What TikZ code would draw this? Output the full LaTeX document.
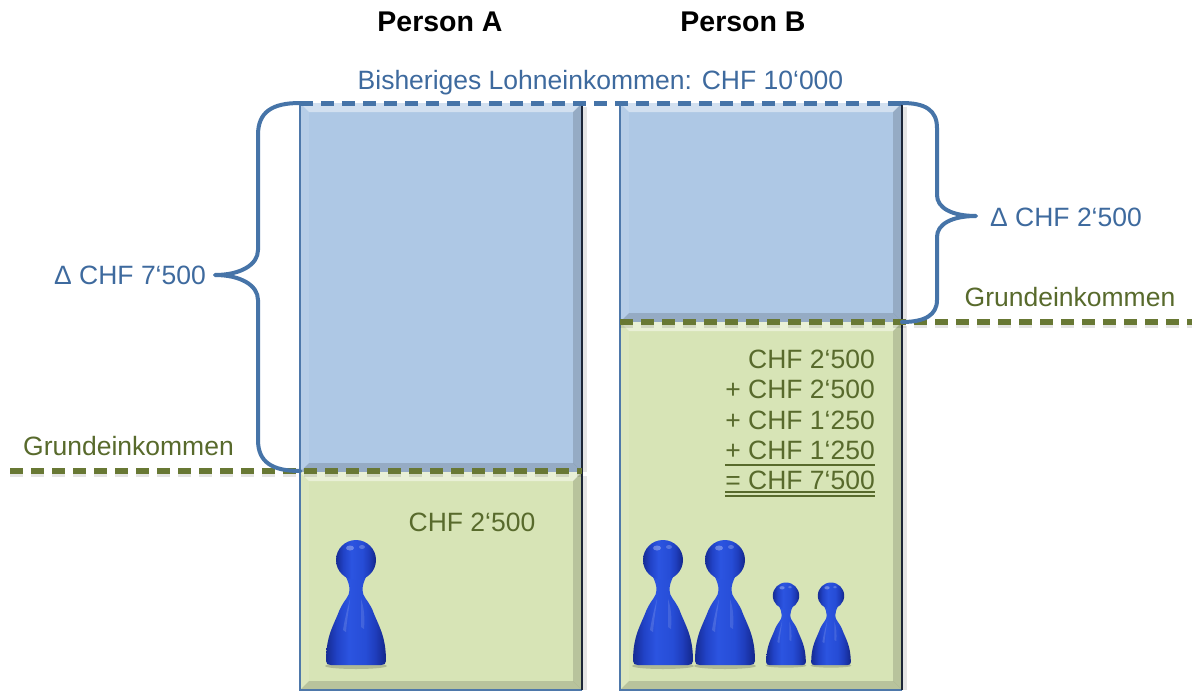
\documentclass[tikz,border=0pt]{standalone}
\usepackage{fontspec}
\setmainfont{Liberation Sans}
\definecolor{paneBlue}{RGB}{174,200,229}
\definecolor{paneGreen}{RGB}{215,228,182}
\definecolor{steel}{RGB}{70,116,168}
\definecolor{steelText}{RGB}{62,106,158}
\definecolor{rimBlue}{RGB}{78,120,170}
\definecolor{rimDark}{RGB}{28,38,56}
\definecolor{olive}{RGB}{104,120,52}
\definecolor{oliveText}{RGB}{88,106,44}

% glossy blue across the pawn, darker towards its sides
\pgfdeclarehorizontalshading{pawnGloss}{100bp}{%
  rgb(0bp)=(0.09,0.18,0.60); rgb(26bp)=(0.09,0.18,0.60);
  rgb(34bp)=(0.13,0.26,0.78); rgb(44bp)=(0.17,0.33,0.88);
  rgb(58bp)=(0.15,0.30,0.84); rgb(66bp)=(0.12,0.24,0.74);
  rgb(74bp)=(0.08,0.16,0.56); rgb(100bp)=(0.08,0.16,0.56)}

% bevelled panel: x0, y0, x1, y1, fill colour
\newcommand\bevelpanel[5]{%
  \fill[black,opacity=.10] ({#3},{#2+4}) rectangle ({#3+5},{#4});
  \fill[#5] (#1,#2) rectangle (#3,#4);
  \fill[white,opacity=.45] (#1,#2) -- (#3,#2) -- ({#3-9},{#2+9}) -- ({#1+9},{#2+9}) -- cycle;
  \fill[white,opacity=.10] (#1,#2) -- ({#1+9},{#2+9}) -- ({#1+9},{#4-9}) -- (#1,#4) -- cycle;
  \fill[black,opacity=.14] (#3,#2) -- (#3,#4) -- ({#3-9},{#4-9}) -- ({#3-9},{#2+9}) -- cycle;
  \fill[black,opacity=.14] (#1,#4) -- (#3,#4) -- ({#3-9},{#4-9}) -- ({#1+9},{#4-9}) -- cycle;
}

\tikzset{
  txt/.style={font=\fontsize{26.5}{30}\selectfont, inner sep=0pt, anchor=base},
  blueTxt/.style={txt, text=steelText},
  greenTxt/.style={txt, text=oliveText},
  headTxt/.style={font=\fontsize{28.5}{32}\selectfont\bfseries, inner sep=0pt, anchor=base},
  blueDash/.style={steel, line width=5pt, dash pattern=on 13pt off 8pt},
  greenDash/.style={olive, line width=5.5pt, dash pattern=on 13pt off 8pt},
  dashShadow/.style={black, opacity=.10, line width=6pt, dash pattern=on 13pt off 8pt},
  braceLine/.style={steel, line width=4pt, line cap=round, line join=round},
  pawnShade/.style={shading=pawnGloss},
  pawn/.pic={
    \fill[black,opacity=.18] (0,1) ellipse (31pt and 3pt);
    \path[pawnShade] (-30,-4) .. controls (-30,-1) and (-28,0) .. (-25,0) -- (25,0)
      .. controls (28,0) and (30,-1) .. (30,-4)
      .. controls (30,-30) and (22,-40) .. (16.5,-55)
      .. controls (11.5,-66) and (6.5,-68) .. (6.5,-75)
      .. controls (6.5,-80) and (8,-84) .. (11,-90) -- (-11,-90)
      .. controls (-8,-84) and (-6.5,-80) .. (-6.5,-75)
      .. controls (-6.5,-68) and (-11.5,-66) .. (-16.5,-55)
      .. controls (-22,-40) and (-30,-30) .. (-30,-4) -- cycle;
    \path[pawnShade] (0,-105) circle (20pt);
    \fill[white,opacity=.30] (-6,-117) ellipse (4pt and 2.5pt);
    \fill[white,opacity=.22] (6,-118) ellipse (3pt and 2pt);
    \fill[white,opacity=.14] (-13,-35) .. controls (-11,-48) and (-8,-58) .. (-6,-66)
      .. controls (-7,-56) and (-9,-46) .. (-10,-33) -- cycle;
    \fill[white,opacity=.12] (5,-38) .. controls (5,-50) and (5,-60) .. (5,-66)
      .. controls (8,-58) and (9,-48) .. (8,-36) -- cycle;
  }
}

\begin{document}
\begin{tikzpicture}[x=1pt,y=-1pt]
\useasboundingbox[fill=white] (0,0) rectangle (1192,693);

% columns
\bevelpanel{300}{103}{582}{472}{paneBlue}
\bevelpanel{300}{472}{582}{690}{paneGreen}
\bevelpanel{620}{103}{902}{322}{paneBlue}
\bevelpanel{620}{322}{902}{690}{paneGreen}
\draw[rimBlue, line width=2.5pt] (300,103) -- (300,690) -- (582,690);
\draw[rimDark, line width=2pt] (582,103) -- (582,690);
\draw[rimBlue, line width=2.5pt] (620,103) -- (620,690) -- (902,690);
\draw[rimDark, line width=2pt] (902,103) -- (902,690);

% reference levels
\coordinate (topL) at (300,103);
\coordinate (topR) at (902,103);
\coordinate (gaL0) at (10,471);
\coordinate (gaL1) at (582,471);
\coordinate (gaR0) at (620,322);
\coordinate (gaR1) at (1192,322);
\draw[dashShadow] ([yshift=-3pt]gaL0) -- ([yshift=-3pt]gaL1);
\draw[dashShadow] ([yshift=-3pt]gaR0) -- ([yshift=-3pt]gaR1);
\draw[blueDash] (topL) -- (topR);
\draw[greenDash] (gaL0) -- (gaL1);
\draw[greenDash] (gaR0) -- (gaR1);

% braces
\draw[braceLine] (topL) .. controls (272,103) and (258,112) .. (258,135) -- (258,250)
  .. controls (258,265) and (240,275) .. (215,275)
  .. controls (240,275) and (258,285) .. (258,300) -- (258,440)
  .. controls (258,462) and (272,471) .. (300,471);
\draw[braceLine] (topR) .. controls (925,103) and (937,110) .. (937,128) -- (937,195)
  .. controls (937,208) and (952,216) .. (976,216)
  .. controls (952,216) and (937,224) .. (937,237) -- (937,300)
  .. controls (937,315) and (925,322) .. (902,322);

% labels
\node[headTxt] (personA) at (440,32) {Person A};
\node[headTxt] (personB) at (743,32) {Person B};
\node[blueTxt] (prior) at (600.5,89) {Bisheriges Lohneinkommen: CHF 10‘000};
\node[blueTxt] (deltaA) at (130,284.5) {Δ CHF 7‘500};
\node[blueTxt] (deltaB) at (1066,226.5) {Δ CHF 2‘500};
\node[greenTxt] (baseA) at (128.5,455.5) {Grundeinkommen};
\node[greenTxt] (baseB) at (1070,306.5) {Grundeinkommen};
\node[greenTxt] (sumA) at (472,531.5) {CHF 2‘500};

\node[greenTxt, anchor=base east] (sum1) at (875,368) {CHF 2‘500};
\node[greenTxt, anchor=base east] (sum2) at (875,398.5) {+ CHF 2‘500};
\node[greenTxt, anchor=base east] (sum3) at (875,429) {+ CHF 1‘250};
\node[greenTxt, anchor=base east] (sum4) at (875,459.5) {+ CHF 1‘250};
\node[greenTxt, anchor=base east] (sum5) at (875,489.5) {= CHF 7‘500};
\draw[oliveText, line width=1.5pt] ([yshift=-5.5pt]sum4.base west) -- ([yshift=-5.5pt]sum4.base east);
\draw[oliveText, line width=1.8pt] ([yshift=-2.5pt]sum5.base west) -- ([yshift=-2.5pt]sum5.base east);
\draw[oliveText, line width=1.8pt] ([yshift=-6.5pt]sum5.base west) -- ([yshift=-6.5pt]sum5.base east);

% pawns
\pic (pawnA) at (356,665) {pawn};
\pic (pawnB1) at (663,665) {pawn};
\pic (pawnB2) at (725,665) {pawn};
\pic[scale=0.66] (pawnB3) at (786,665) {pawn};
\pic[scale=0.66] (pawnB4) at (831,665) {pawn};
\end{tikzpicture}
\end{document}
